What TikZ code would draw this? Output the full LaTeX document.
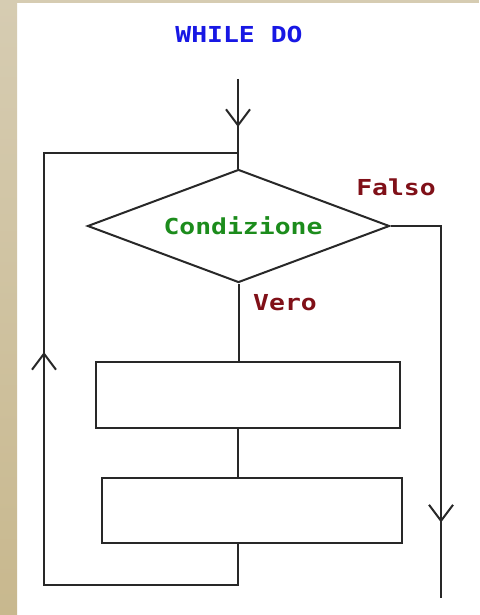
\documentclass[tikz,border=0pt]{standalone}
\usepackage{fontspec}
\usetikzlibrary{shapes.geometric,arrows.meta,decorations.markings}
\newfontfamily\pixfont[FakeStretch=1.2]{DejaVu Sans Mono}
\definecolor{titleblue}{RGB}{24,24,228}
\definecolor{condgreen}{RGB}{28,140,28}
\definecolor{labelred}{RGB}{128,16,24}
\definecolor{flowline}{RGB}{40,40,40}
\definecolor{frameTop}{RGB}{214,204,178}
\definecolor{frameBot}{RGB}{200,184,142}
\tikzset{
  pixtext/.style={font=\pixfont\bfseries\fontsize{22}{22}\selectfont, inner sep=0pt},
  flow/.style={draw=flowline, line width=2pt},
  stepbox/.style={flow, rectangle, inner sep=0pt},
  decision/.style={flow, diamond, inner sep=0pt, shape aspect=2.67},
  midarrow/.style={postaction={decorate}, decoration={markings,
    mark=at position #1 with {\arrow{Straight Barb[length=16pt,width=24pt]}}}}
}
\begin{document}
\begin{tikzpicture}[x=1pt,y=-1pt]
  % page and framing strip
  \useasboundingbox (0,0) rectangle (479,615);
  \fill[white] (0,0) rectangle (479,615);
  \shade[top color=frameTop, bottom color=frameBot] (0,0) rectangle (17,615);
  \fill[frameTop] (0,0) rectangle (479,3);

  % title
  \node[pixtext, text=titleblue] (title) at (239,34) {WHILE DO};

  % flow elements
  \node[decision, minimum width=302pt, minimum height=113pt] (cond) at (238.5,226) {};
  \node[pixtext, text=condgreen] (condtext) at (243,226) {Condizione};
  \node[stepbox, minimum width=304pt, minimum height=66pt] (body1) at (248,395) {};
  \node[stepbox, minimum width=300pt, minimum height=65pt] (body2) at (252,510.5) {};

  % labels
  \node[pixtext, text=labelred] (falso) at (396,187) {Falso};
  \node[pixtext, text=labelred] (vero) at (285,303) {Vero};

  % routing points
  \coordinate (start) at (238,79);
  \coordinate (entry) at (238,153);
  \coordinate (loopBL) at (44,585);
  \coordinate (loopTL) at (44,153);
  \coordinate (exitTop) at (441,226);
  \coordinate (exitEnd) at (441,598);

  % connectors
  \draw[flow, midarrow=48pt] (start) -- (start |- cond.north);
  \draw[flow] (cond.south) -- (cond.south |- body1.north);
  \draw[flow] (body1.south -| entry) -- (body2.north -| entry);
  \draw[flow, midarrow=468pt] (body2.south -| entry) |- (loopBL) -- (loopTL) -- (entry);
  \draw[flow, midarrow=347pt] (cond.east) -- (exitTop) -- (exitEnd);
\end{tikzpicture}
\end{document}
